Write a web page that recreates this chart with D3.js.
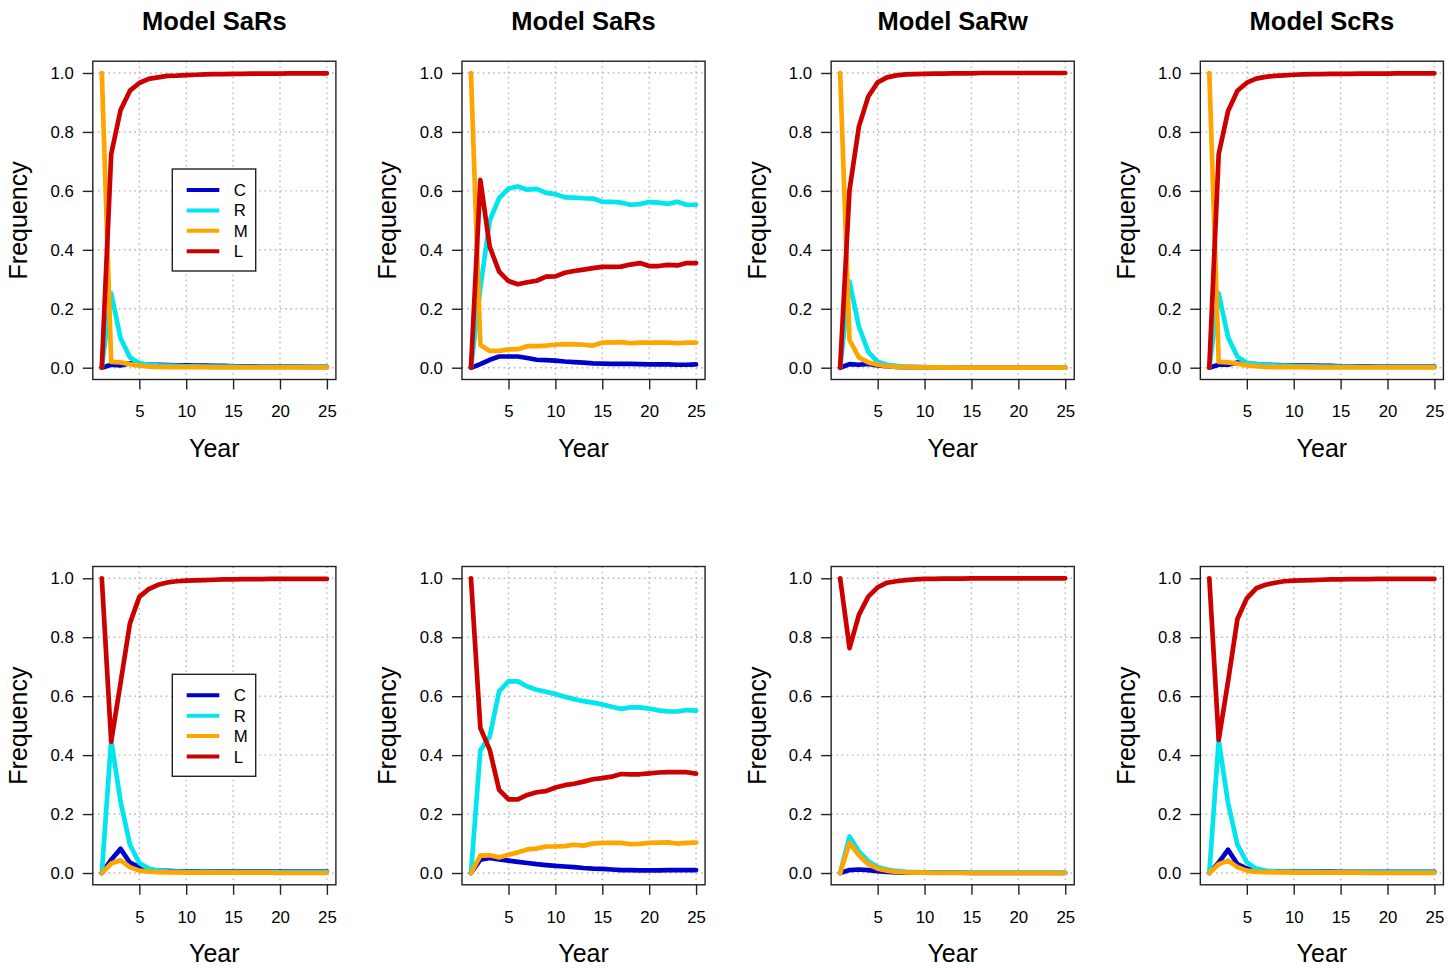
<!DOCTYPE html>
<html><head><meta charset="utf-8">
<script src="https://cdn.jsdelivr.net/npm/d3@7"></script>
<style>
body{margin:0;background:#fff}
svg{display:block}
text{font-family:"Liberation Sans",Arial,Helvetica,sans-serif;fill:#000}
</style>
</head><body>
<svg id="c" width="1456" height="968"></svg>
<script>
// ---------- data ----------
const years = [1,2,3,4,5,6,7,8,9,10,11,12,13,14,15,16,17,18,19,20,21,22,23,24,25];
const xTicks = [5,10,15,20,25];
const yTicks = [0,0.2,0.4,0.6,0.8,1.0];
const seriesNames = ["C","R","M","L"];
const seriesColors = ["#0000CD","#00E5EE","#FFA500","#CD0000"];
const titles = ["Model SaRs","Model SaRs","Model SaRw","Model ScRs"];

// top row
const t1_C = [0,0.010,0.008,0.015,0.012,0.010,0.010,0.009,0.008,0.008,0.007,0.007,0.006,0.006,0.005,0.005,0.005,0.004,0.004,0.004,0.004,0.004,0.003,0.003,0.003];
const t1_R = [0,0.252,0.100,0.035,0.016,0.010,0.008,0.007,0.006,0.005,0.005,0.004,0.004,0.004,0.004,0.003,0.003,0.003,0.003,0.003,0.003,0.003,0.003,0.003,0.003];
const t1_M = [1,0.020,0.018,0.012,0.007,0.004,0.003,0.002,0.002,0.002,0.002,0.002,0.001,0.001,0.001,0.001,0.001,0.001,0.001,0.001,0.001,0.001,0.001,0.001,0.001];
const t1_L = [0,0.724,0.874,0.940,0.966,0.980,0.985,0.990,0.991,0.993,0.994,0.995,0.996,0.996,0.997,0.997,0.998,0.998,0.998,0.998,0.999,0.999,0.999,0.999,0.999];

const t2_C = [0,0.012,0.027,0.038,0.038,0.038,0.033,0.027,0.026,0.024,0.021,0.019,0.017,0.015,0.014,0.013,0.013,0.013,0.012,0.011,0.011,0.011,0.010,0.010,0.011];
const t2_R = [0,0.270,0.500,0.575,0.608,0.615,0.604,0.607,0.593,0.589,0.578,0.577,0.575,0.574,0.563,0.563,0.560,0.553,0.555,0.562,0.560,0.556,0.563,0.553,0.553];
const t2_M = [1,0.077,0.057,0.057,0.062,0.063,0.073,0.073,0.075,0.078,0.080,0.079,0.078,0.075,0.085,0.086,0.087,0.083,0.085,0.085,0.085,0.085,0.083,0.085,0.085];
const t2_L = [0,0.637,0.410,0.326,0.294,0.283,0.290,0.295,0.309,0.310,0.322,0.328,0.333,0.338,0.342,0.342,0.343,0.350,0.355,0.345,0.345,0.349,0.347,0.355,0.355];

const t3_C = [0,0.012,0.010,0.013,0.008,0.005,0.003,0.002,0.002,0.001,0.001,0.001,0.001,0.001,0.001,0,0,0,0,0,0,0,0,0,0];
const t3_R = [0,0.292,0.139,0.054,0.020,0.010,0.006,0.003,0.002,0.002,0.001,0.001,0.001,0,0,0,0,0,0,0,0,0,0,0,0];
const t3_M = [1,0.094,0.035,0.018,0.010,0.005,0.003,0.002,0.001,0.001,0.001,0,0,0,0,0,0,0,0,0,0,0,0,0,0];
const t3_L = [0,0.603,0.818,0.920,0.968,0.985,0.992,0.995,0.996,0.997,0.998,0.998,0.999,0.999,0.999,1,1,1,1,1,1,1,1,1,1];

const t4_C = [0,0.010,0.010,0.018,0.013,0.012,0.010,0.009,0.008,0.008,0.007,0.007,0.006,0.006,0.005,0.005,0.005,0.005,0.004,0.004,0.004,0.004,0.004,0.004,0.004];
const t4_R = [0,0.252,0.103,0.037,0.017,0.012,0.010,0.008,0.007,0.006,0.005,0.005,0.004,0.004,0.004,0.004,0.003,0.003,0.003,0.003,0.003,0.003,0.003,0.003,0.003];
const t4_M = [1,0.020,0.018,0.014,0.008,0.005,0.003,0.002,0.002,0.002,0.002,0.001,0.001,0.001,0.001,0.001,0.001,0.001,0.001,0.001,0.001,0.001,0.001,0.001,0.001];
const t4_L = [0,0.724,0.871,0.940,0.967,0.981,0.987,0.990,0.992,0.994,0.995,0.996,0.996,0.997,0.997,0.997,0.998,0.998,0.998,0.998,0.999,0.999,0.999,0.999,0.999];

// bottom row
const b1_C = [0,0.045,0.082,0.035,0.020,0.010,0.008,0.007,0.006,0.006,0.006,0.005,0.005,0.005,0.005,0.005,0.005,0.005,0.005,0.005,0.005,0.005,0.005,0.005,0.005];
const b1_R = [0,0.451,0.243,0.096,0.034,0.015,0.008,0.006,0.005,0.004,0.004,0.004,0.003,0.003,0.003,0.003,0.003,0.003,0.003,0.003,0.003,0.003,0.003,0.003,0.003];
const b1_M = [0,0.032,0.043,0.020,0.008,0.005,0.003,0.002,0.002,0.001,0.001,0.001,0.001,0.001,0.001,0.001,0.001,0.001,0.001,0,0,0,0,0,0];
const b1_L = [1,0.446,0.645,0.847,0.937,0.963,0.978,0.986,0.990,0.992,0.993,0.994,0.995,0.996,0.996,0.997,0.997,0.997,0.998,0.998,0.998,0.998,0.998,0.998,0.998];

const b2_C = [0,0.045,0.051,0.046,0.042,0.038,0.034,0.030,0.027,0.024,0.022,0.020,0.017,0.015,0.014,0.012,0.010,0.010,0.009,0.009,0.009,0.010,0.010,0.010,0.010];
const b2_R = [0,0.416,0.463,0.616,0.650,0.650,0.633,0.622,0.615,0.607,0.598,0.590,0.583,0.578,0.572,0.564,0.557,0.562,0.562,0.558,0.552,0.548,0.548,0.553,0.551];
const b2_M = [0,0.059,0.060,0.053,0.062,0.070,0.080,0.083,0.090,0.090,0.091,0.096,0.093,0.100,0.102,0.102,0.102,0.098,0.099,0.102,0.103,0.104,0.100,0.102,0.103];
const b2_L = [1,0.492,0.418,0.282,0.250,0.250,0.265,0.274,0.278,0.290,0.298,0.303,0.310,0.318,0.322,0.327,0.336,0.335,0.335,0.338,0.341,0.342,0.342,0.342,0.337];

const b3_C = [0,0.010,0.012,0.010,0.006,0.004,0.002,0.001,0.001,0.001,0.001,0.001,0.001,0.001,0,0,0,0,0,0,0,0,0,0,0];
const b3_R = [0,0.124,0.073,0.040,0.020,0.012,0.007,0.004,0.003,0.002,0.001,0.001,0.001,0.001,0.001,0.001,0.001,0.001,0.001,0.001,0.001,0.001,0.001,0.001,0.001];
const b3_M = [0,0.102,0.060,0.030,0.015,0.008,0.004,0.002,0.001,0.001,0,0,0,0,0,0,0,0,0,0,0,0,0,0,0];
const b3_L = [1,0.763,0.876,0.938,0.969,0.985,0.990,0.994,0.996,0.998,0.998,0.999,0.999,0.999,1,1,1,1,1,1,1,1,1,1,1];

const b4_C = [0,0.035,0.079,0.030,0.015,0.008,0.006,0.005,0.005,0.005,0.005,0.005,0.005,0.005,0.004,0.004,0.004,0.004,0.004,0.004,0.004,0.004,0.004,0.004,0.004];
const b4_R = [0,0.450,0.237,0.096,0.036,0.015,0.008,0.006,0.005,0.004,0.004,0.004,0.003,0.003,0.003,0.003,0.003,0.003,0.003,0.003,0.003,0.003,0.003,0.003,0.003];
const b4_M = [0,0.030,0.042,0.020,0.008,0.004,0.003,0.002,0.002,0.001,0.001,0.001,0.001,0.001,0.001,0.001,0.001,0,0,0,0,0,0,0,0];
const b4_L = [1,0.452,0.650,0.862,0.932,0.966,0.978,0.985,0.990,0.992,0.993,0.994,0.995,0.996,0.996,0.997,0.997,0.997,0.998,0.998,0.998,0.998,0.998,0.998,0.998];

const panelSeries = [
  [t1_C,t1_R,t1_M,t1_L],[t2_C,t2_R,t2_M,t2_L],[t3_C,t3_R,t3_M,t3_L],[t4_C,t4_R,t4_M,t4_L],
  [b1_C,b1_R,b1_M,b1_L],[b2_C,b2_R,b2_M,b2_L],[b3_C,b3_R,b3_M,b3_L],[b4_C,b4_R,b4_M,b4_L]
];
const legendPanels = [0,4];

// ---------- drawing ----------
const svg = d3.select("#c");
const colStep = 369.17, rowStep = 505.3;
const plotW = 243.1;

panelSeries.forEach((series, i) => {
  const col = i % 4, row = Math.floor(i / 4);
  const x0 = 92.8 + col * colStep;
  const yTop = 61.2 + row * rowStep, yBot = 379.5 + row * rowStep;
  const x = d3.scaleLinear().domain([0.04, 25.96]).range([x0, x0 + plotW]);
  const y = d3.scaleLinear().domain([-0.04, 1.04]).range([yBot, yTop]);
  const g = svg.append("g");

  // grid
  g.selectAll(".gx").data(xTicks).join("line")
    .attr("x1", d => x(d)).attr("x2", d => x(d)).attr("y1", yTop).attr("y2", yBot)
    .attr("stroke", "#b8b8b8").attr("stroke-width", 1.4).attr("stroke-dasharray", "1.6,3.6");
  g.selectAll(".gy").data(yTicks).join("line")
    .attr("y1", d => y(d)).attr("y2", d => y(d)).attr("x1", x0).attr("x2", x0 + plotW)
    .attr("stroke", "#b8b8b8").attr("stroke-width", 1.4).attr("stroke-dasharray", "1.6,3.6");

  // lines
  const line = d3.line().x((d, k) => x(years[k])).y(d => y(d));
  series.forEach((s, k) => {
    g.append("path").datum(s).attr("d", line)
      .attr("fill", "none").attr("stroke", seriesColors[k]).attr("stroke-width", 4.7)
      .attr("stroke-linejoin", "round").attr("stroke-linecap", "round");
  });

  // box
  g.append("rect").attr("x", x0).attr("y", yTop).attr("width", plotW).attr("height", yBot - yTop)
    .attr("fill", "none").attr("stroke", "#222").attr("stroke-width", 1.4);

  // axes
  const ay = g.append("g").attr("transform", `translate(${x0},0)`)
    .call(d3.axisLeft(y).tickValues(yTicks).tickFormat(d3.format(".1f")).tickSize(10).tickPadding(9));
  const ax = g.append("g").attr("transform", `translate(0,${yBot})`)
    .call(d3.axisBottom(x).tickValues(xTicks).tickSize(10).tickPadding(16));
  [ax, ay].forEach(a => {
    a.select(".domain").remove();
    a.selectAll(".tick line").attr("stroke", "#222").attr("stroke-width", 1.4);
    a.selectAll(".tick text").attr("font-size", "16.8px").attr("fill", "#000")
      .style("font-family", '"Liberation Sans",Arial,sans-serif');
  });

  const cx = x0 + plotW / 2;
  if (row === 0) {
    g.append("text").attr("x", cx).attr("y", 30).attr("text-anchor", "middle")
      .attr("font-size", "25.5px").attr("font-weight", "bold").text(titles[col]);
  }
  g.append("text").attr("x", cx).attr("y", 457 + row * rowStep).attr("text-anchor", "middle")
    .attr("font-size", "25px").text("Year");
  g.append("text").attr("transform", `translate(${x0 - 65.5},${(yTop + yBot) / 2}) rotate(-90)`)
    .attr("text-anchor", "middle").attr("font-size", "25px").text("Frequency");

  if (legendPanels.includes(i)) {
    const lx = x0 + 79.5, ly = yTop + 107.8;
    const lg = g.append("g");
    lg.append("rect").attr("x", lx).attr("y", ly).attr("width", 83.4).attr("height", 102)
      .attr("fill", "#fff").attr("stroke", "#222").attr("stroke-width", 1.4);
    seriesNames.forEach((n, k) => {
      const yy = ly + 21 + k * 20.4;
      lg.append("line").attr("x1", lx + 14.4).attr("x2", lx + 47).attr("y1", yy).attr("y2", yy)
        .attr("stroke", seriesColors[k]).attr("stroke-width", 4);
      lg.append("text").attr("x", lx + 61.5).attr("y", yy).attr("dy", "0.36em")
        .attr("font-size", "16.8px").text(n);
    });
  }
});
</script>
</body></html>
